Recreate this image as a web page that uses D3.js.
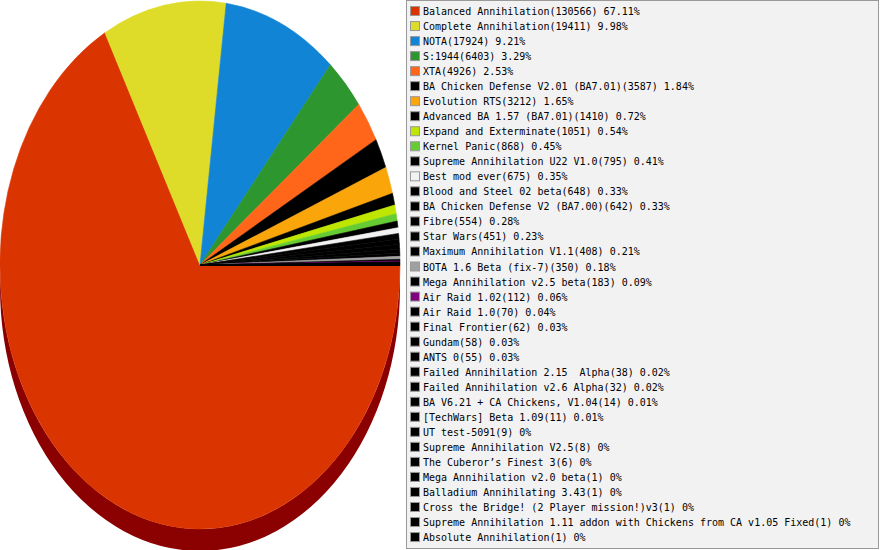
<!DOCTYPE html>
<html>
<head>
<meta charset="utf-8">
<script src="https://cdn.jsdelivr.net/npm/d3@7/dist/d3.min.js"></script>
<style>
html,body{margin:0;padding:0;background:#fff;}
svg{display:block;}
</style>
</head>
<body>
<svg id="chart" width="881" height="550"></svg>
<script>
const categories = [
  "Balanced Annihilation","Complete Annihilation","NOTA","S:1944","XTA",
  "BA Chicken Defense V2.01 (BA7.01)","Evolution RTS","Advanced BA 1.57 (BA7.01)",
  "Expand and Exterminate","Kernel Panic","Supreme Annihilation U22 V1.0","Best mod ever",
  "Blood and Steel 02 beta","BA Chicken Defense V2 (BA7.00)","Fibre","Star Wars",
  "Maximum Annihilation V1.1","BOTA 1.6 Beta (fix-7)","Mega Annihilation v2.5 beta",
  "Air Raid 1.02","Air Raid 1.0","Final Frontier","Gundam","ANTS 0",
  "Failed Annihilation 2.15  Alpha","Failed Annihilation v2.6 Alpha",
  "BA V6.21 + CA Chickens, V1.04","[TechWars] Beta 1.09","UT test-5091",
  "Supreme Annihilation V2.5","The Cuberor\u2019s Finest 3","Mega Annihilation v2.0 beta",
  "Balladium Annihilating 3.43","Cross the Bridge! (2 Player mission!)v3",
  "Supreme Annihilation 1.11 addon with Chickens from CA v1.05 Fixed","Absolute Annihilation"
];
const values = [
  130566,19411,17924,6403,4926,3587,3212,1410,1051,868,795,675,648,642,554,451,408,350,183,
  112,70,62,58,55,38,32,14,11,9,8,6,1,1,1,1,1
];
const colors = [
  "#da3400","#dedc28","#1284d6","#2e962e","#ff6619","#000000","#faa50a","#000000",
  "#bee600","#66cc33","#000000","#f2f2f2","#000000","#000000","#000000","#000000",
  "#000000","#a0a0a0","#000000","#800080","#000000","#000000","#000000","#000000",
  "#000000","#000000","#000000","#000000","#000000","#000000","#000000","#000000",
  "#000000","#000000","#000000","#000000"
];
const sideColors = { "#da3400": "#8b0000" };

const svg = d3.select("#chart");
const cx = 200, cy = 265, rx = 200, ry = 264, depth = 22;

const data = categories.map((c, i) => ({ name: c, value: values[i], color: colors[i] }));
const total = d3.sum(values);

const pie = d3.pie().value(d => d.value).sort(null)
  .startAngle(Math.PI / 2).endAngle(Math.PI / 2 + 2 * Math.PI);
const arcs = pie(data);

const px = a => cx + rx * Math.sin(a);
const py = a => cy - ry * Math.cos(a);

// side walls (front half only)
const sideG = svg.append("g");
arcs.forEach(d => {
  const a0 = Math.max(d.startAngle, Math.PI / 2);
  const a1 = Math.min(d.endAngle, 3 * Math.PI / 2);
  if (a1 <= a0) return;
  const large = (a1 - a0) > Math.PI ? 1 : 0;
  const p = `M${px(a0)},${py(a0)} A${rx},${ry} 0 ${large} 1 ${px(a1)},${py(a1)}` +
            ` L${px(a1)},${py(a1) + depth} A${rx},${ry} 0 ${large} 0 ${px(a0)},${py(a0) + depth} Z`;
  sideG.append("path").attr("d", p)
    .attr("fill", sideColors[d.data.color] || d3.color(d.data.color).darker(1.2));
});

// top faces
const arc = d3.arc().innerRadius(0).outerRadius(rx);
svg.append("g")
  .attr("transform", `translate(${cx},${cy}) scale(1,${ry / rx})`)
  .selectAll("path").data(arcs).join("path")
  .attr("d", arc)
  .attr("fill", d => d.data.color)
  .attr("stroke", d => d.data.color)
  .attr("stroke-width", 0.5)
  .attr("stroke-linejoin", "round");

// legend
const lg = svg.append("g");
lg.append("rect").attr("x", 406.5).attr("y", 0.5).attr("width", 472).attr("height", 548)
  .attr("fill", "#f2f2f2").attr("stroke", "#999999");
const fmt = v => { const p = +(v / total * 100).toFixed(2); return String(p) + "%"; };
const rows = lg.selectAll("g.row").data(data).join("g")
  .attr("class", "row")
  .attr("transform", (d, i) => `translate(0,${i * 15.03})`);
rows.append("rect").attr("x", 410.5).attr("y", 6.5).attr("width", 9).attr("height", 9)
  .attr("fill", d => d.color).attr("stroke", "#999999");
rows.append("text").attr("x", 423).attr("y", 15)
  .attr("font-family", "DejaVu Sans Mono, monospace").attr("font-size", "10px")
  .attr("fill", "#000")
  .attr("xml:space", "preserve")
  .style("white-space", "pre")
  .text(d => `${d.name}(${d.value}) ${fmt(d.value)}`);
</script>
</body>
</html>
